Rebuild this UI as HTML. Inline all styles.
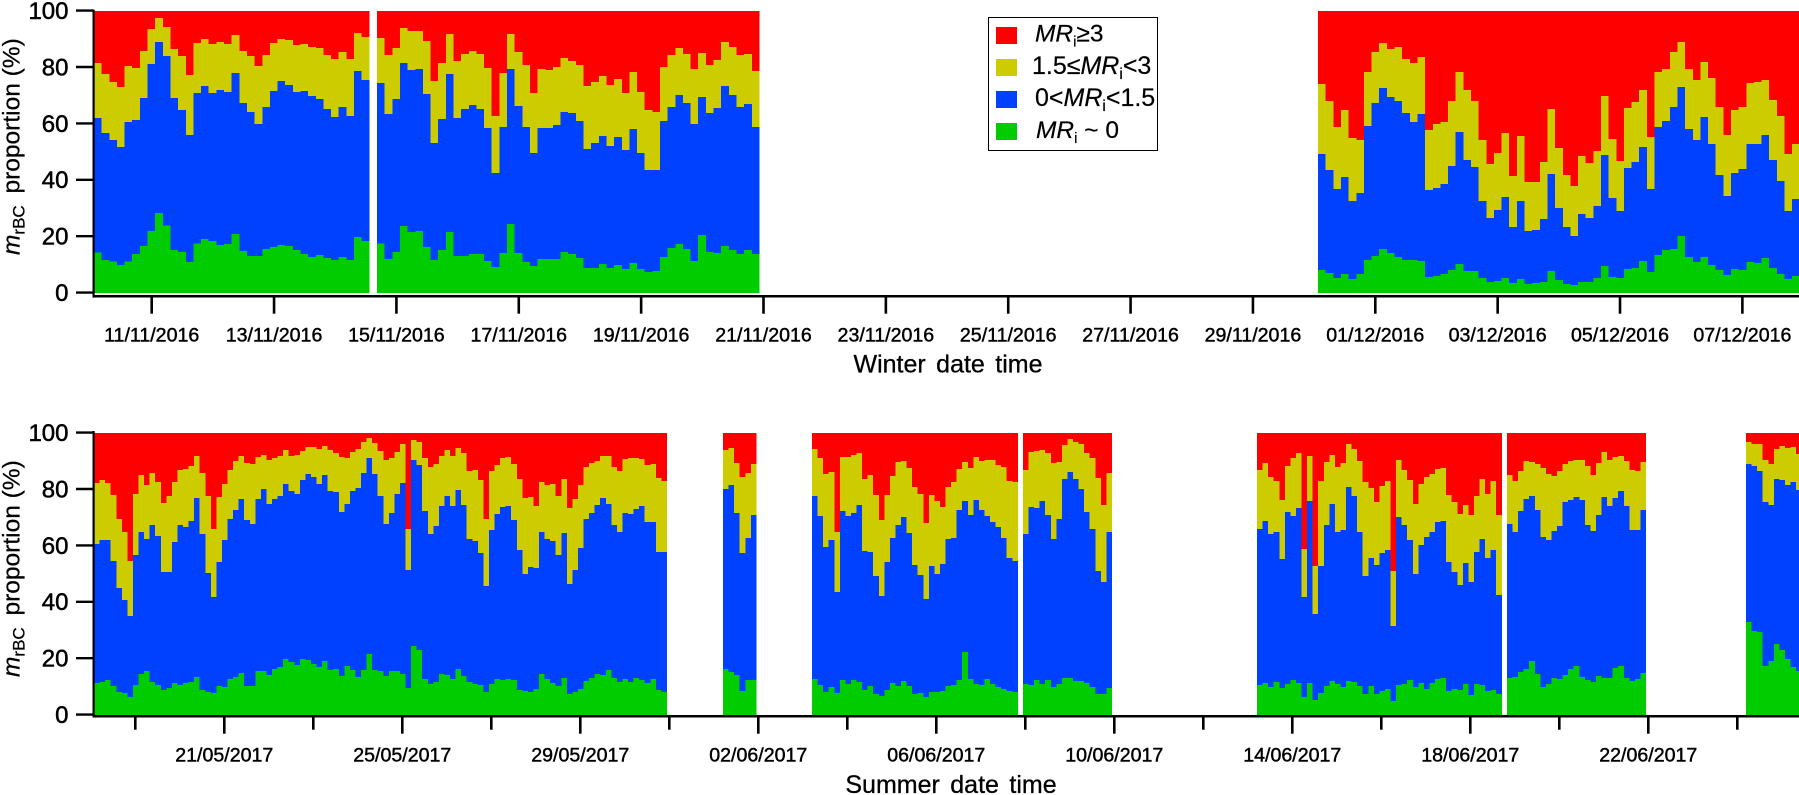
<!DOCTYPE html>
<html lang="en">
<head>
<meta charset="utf-8">
<title>mrBC proportion by MRi class</title>
<style>
html,body{margin:0;padding:0;background:#fff;width:1799px;height:795px;overflow:hidden}
svg{display:block;font-family:"Liberation Sans",Arial,sans-serif;fill:#000}
</style>
</head>
<body>
<svg id="chart" width="1799" height="795" viewBox="0 0 1799 795" xmlns="http://www.w3.org/2000/svg">
  <g id="winter-panel"></g>
  <g id="summer-panel"></g>

  <text transform="translate(19.5,255) rotate(-90)" font-size="24.5" stroke="#000" stroke-width="0.25"><tspan font-style="italic">m</tspan><tspan font-size="17" dy="5">rBC</tspan><tspan dy="-5" dx="5"> proportion (%)</tspan></text>
  <text transform="translate(19.5,677) rotate(-90)" font-size="24.5" stroke="#000" stroke-width="0.25"><tspan font-style="italic">m</tspan><tspan font-size="17" dy="5">rBC</tspan><tspan dy="-5" dx="5"> proportion (%)</tspan></text>
  <text x="948" y="372.7" font-size="25" text-anchor="middle" word-spacing="3.5" stroke="#000" stroke-width="0.3">Winter date time</text>
  <text x="951" y="793" font-size="25" text-anchor="middle" word-spacing="3.5" stroke="#000" stroke-width="0.3">Summer date time</text>

  <g>
    <rect x="988.5" y="17.5" width="169" height="133" fill="#fff" stroke="#000" stroke-width="1"/>
    <rect x="996" y="27" width="21" height="17" fill="#ff0000"/>
    <rect x="996" y="59" width="21" height="17" fill="#cccc00"/>
    <rect x="996" y="91" width="21" height="17" fill="#0040ff"/>
    <rect x="996" y="123" width="21" height="17" fill="#00cc00"/>
    <text x="1035" y="41.7" font-size="24.5" stroke="#000" stroke-width="0.2"><tspan font-style="italic">MR</tspan><tspan font-size="15" dy="5">i</tspan><tspan dy="-5">≥3</tspan></text>
    <text x="1032" y="74" font-size="25" stroke="#000" stroke-width="0.2">1.5≤<tspan font-style="italic">MR</tspan><tspan font-size="15.5" dy="5">i</tspan><tspan dy="-5">&lt;3</tspan></text>
    <text x="1035" y="106" font-size="25" stroke="#000" stroke-width="0.2">0&lt;<tspan font-style="italic">MR</tspan><tspan font-size="15.5" dy="5">i</tspan><tspan dy="-5">&lt;1.5</tspan></text>
    <text x="1036" y="138" font-size="24.5" stroke="#000" stroke-width="0.2"><tspan font-style="italic">MR</tspan><tspan font-size="15" dy="5">i</tspan><tspan dy="-5"> ~ 0</tspan></text>
  </g>
</svg>
<script>
// Value axis ticks (percent) shared by both panels
const yTickValues = [0, 20, 40, 60, 80, 100];

// Tick labels, one tick every two days ("" = unlabelled minor tick)
const winterTickLabels = ["11/11/2016","13/11/2016","15/11/2016","17/11/2016","19/11/2016","21/11/2016","23/11/2016","25/11/2016","27/11/2016","29/11/2016","01/12/2016","03/12/2016","05/12/2016","07/12/2016"];
const summerTickLabels = ["","21/05/2017","","25/05/2017","","29/05/2017","","02/06/2017","","06/06/2017","","10/06/2017","","14/06/2017","","18/06/2017","","22/06/2017",""];

// Sampling run start (days after the first tick); each bin lasts one eighth of a day
const binDays = 0.125;
const winterRunStarts = [-0.943, 3.683, 19.064];
const summerRunStarts = [-0.928, 13.207, 15.207, 19.948, 25.207, 30.824, 36.196];

// Cumulative stack tops (%): Green = MRi~0, Blue = +0<MRi<1.5, Yellow = +1.5<=MRi<3; red fills to 100
const winter1Green = [14.4,11.7,11.2,9.9,11.2,13.8,16.7,22,28.4,24,15.2,14.5,11,17.6,19.1,18.4,17,17.4,20.9,14.9,13.1,13.1,15.6,16.3,17,16.7,15.2,13.8,12.8,13.5,12.4,11.7,12.8,11.7,19.9,18.4];
const winter1Blue = [62,56.7,54.3,51.8,60.6,61.3,69.1,81.2,89,84,69.1,64.9,56,70.9,73.4,70.9,72,71.3,78,67.4,64.2,59.9,66,71.6,75.2,73.8,71.3,71.6,69.9,68.8,65.2,62.4,66,62.8,78.7,75.5];
const winter1Yellow = [81.6,77.7,74.8,73,80.5,79.8,85.8,93.6,97.5,94.3,86.5,84,77.3,88.7,90,88.3,89,88.3,91.5,85.8,84,80.5,84.4,88.7,90,89.7,88,88.3,87.2,86.9,84.4,83,85.5,83,92.2,90.8];

const winter2Green = [17.6,12.1,14.5,23.8,21.6,22,16.3,11.7,15.2,21.6,13.1,13.1,13.8,13.8,11.3,9.2,14.2,24.5,14.2,11,9.6,12.1,12.1,12.1,14.5,13.8,12.4,8.9,8.9,10.3,8.9,9.9,8.5,10.6,8.5,7.4,7.8,12.8,16,17.4,15.6,11.3,20.6,14.5,14.2,16.7,15.2,13.8,15.2,13.8];
const winter2Blue = [74.5,63.5,68.8,81.6,79.1,79.4,70.6,53.2,61.7,77.7,62,65.2,66.7,65.2,58.5,42.6,58.9,79.4,66.3,58.9,49.6,58.5,58.5,59.6,64.2,63.8,61,51.1,53.2,55.7,52.1,55.3,50.7,58.2,49.6,43.6,43.6,61,66,70.2,67.4,59.9,69.5,63.8,65.6,73.4,70.2,66,67,58.9];
const winter2Yellow = [90.4,84.4,86.9,94,92.9,92.9,89.4,75.2,81.6,91.8,82.3,84.8,85.8,84.8,79.8,62.8,78,91.8,85.5,80.9,70.9,79.4,79.1,80.1,83.3,82.3,80.9,73.4,74.8,77,73.8,75.9,70.9,78.4,71.3,64.9,64.2,80.1,84.4,86.9,84.8,79.4,85.1,80.9,82.6,89,87.2,84.4,84.8,78.7];

const winter3Green = [8.2,7.1,5.3,6.7,5,6.7,11.7,13.1,15.6,14.2,12.8,11.7,11.7,11.3,5.7,6,6.7,8.2,10.3,7.8,7.8,5.3,3.9,4.3,5.3,3.5,5,3.2,3.5,3.9,7.8,4.6,3.2,2.8,3.9,3.9,5.3,9.6,5.7,5.3,8.5,8.9,11.3,7.4,13.5,15.2,15.6,20.2,12.8,11,12.8,9.9,8.2,6.4,8.5,8.2,11,10.6,12.4,8.9,6.7,5,6];
const winter3Blue = [49.3,43.6,36.9,41.1,32.6,35.5,59.2,67.4,72.7,69.5,68.1,63.8,60.6,63.5,36.5,37.2,38.7,45,57.1,47.2,44.7,32.6,26.6,29.4,34,23.4,32.6,22,22.3,26.2,42.2,30.1,23.4,20.2,28,26.6,30.9,48.9,33.7,29.1,44.3,46.5,51.8,36.9,58.9,61,66,73,58.2,54.3,62.4,52.8,41.8,34.4,42.6,44,52.8,52.8,56,47.2,39.7,29.1,33.3];
const winter3Yellow = [74.1,68.1,58.9,64.9,55,54.3,78.4,85.5,88.7,86.5,87.2,83,81.6,83.7,57.8,59.9,60.6,68.1,78.4,72,68.1,54.3,45.7,49.6,56.7,41.5,55.7,39.4,39.4,46.5,65.2,51.4,41.8,37.9,48.6,46.1,50.4,69.9,54.6,46.8,65.6,67.7,72,55.3,78.4,79.4,85.5,89,79.4,75.5,82,76.2,66,56,64.9,66,74.5,74.8,75.5,68.4,62.8,49.3,52.8];

const summer1Green = [11.3,11.7,12.4,10.3,8.2,7.8,6.4,10.6,14.5,15.6,11.7,10.6,8.9,9.6,11.3,10.6,11.3,11.7,13.5,8.9,8.2,7.8,10.3,9.9,12.8,13.5,14.9,10.3,10.3,15.6,15.6,14.2,16.3,17,19.9,18.8,17.7,19.9,19.5,18.1,17,19.1,16,16.3,13.8,17.4,16,13.5,16,21.6,16,15.6,13.8,15.6,15.6,14.5,9.6,24.5,23,12.8,11,11.7,14.5,14.2,12.8,16.3,13.8,11.7,11,10.6,8.2,11,12.8,12.4,12.8,12.4,8.9,8.5,8.2,9.2,14.5,12.8,11.3,10.3,13.1,7.4,8.2,9.2,12.1,13.1,14.5,14.2,16,13.1,11.7,12.8,11.7,13.1,12.4,11.3,12.8,8.9,8.2];
const summer1Blue = [60.6,62,62,54.6,45,40.8,35.1,56.7,64.9,62.4,67.4,63.5,50.7,50.7,61.3,67.4,66.7,68.8,76.9,64.2,50.4,41.8,54.3,62,69.5,72.7,76.6,69.1,67.7,76.6,80.1,74.8,76.6,77.7,81.9,79.4,78.4,83.3,85.5,84.4,81.9,85.1,79.4,79.1,72,74.8,79.4,80.5,85.8,91.1,85.5,77.7,67.7,71.6,78.4,82.3,51.4,90.4,88.7,72.3,64.2,67,74.1,77.7,74.1,79.8,74.5,62.4,61.7,57.4,45.7,65.6,71.3,73.8,74.1,69.1,58.5,50,52.5,52.1,64.9,62.4,61.7,56.7,64.5,46.5,51.4,59.2,69.5,71.6,74.5,76.9,74.8,67.4,64.9,71.6,71.3,73,74.1,68.4,68.4,57.8,57.8];
const summer1Yellow = [82.3,83.3,82.3,78,69.5,64.9,54.6,78.4,85.1,81.6,85.8,82.6,75.2,77.7,82.6,86.9,87.2,88.3,91.8,85.8,77.7,66,77.3,81.9,86.9,90.1,91.8,89.4,89,91.5,92.2,90.4,91.1,91.8,94,91.8,92.2,93.6,95,95,94.3,95.4,94,92.9,91.5,91.1,93.3,94.3,96.8,98.2,96.5,93.6,90.4,91.1,93.3,96.1,66,97.5,96.8,91.1,87.9,89,91.8,94,91.8,94.7,92.9,86.5,86.9,83.3,69.5,86.5,88.7,91.1,91.5,89,83.7,76.9,77.3,74.1,82.6,81.6,81.9,77.7,83.7,73.4,76.6,81.6,87.9,89.4,90.1,91.8,91.8,87.9,86.5,90.8,91.1,91.1,90.8,88.7,89,84,83];

const summer2Green = [16.3,15.2,14.2,8.5,12.4,12.4];
const summer2Blue = [80.1,81.6,71.6,57.4,62.8,70.9];
const summer2Yellow = [94,94.7,89.4,84.4,85.8,89];

const summer3Green = [12.8,10.6,8.2,9.9,7.8,12.4,11,12.4,11.7,8.9,10.3,7.4,6.7,8.9,11.3,10.3,12.1,10.3,7.4,7.8,6.4,8.2,8.2,8.5,10.3,10.6,12.4,22.3,12.8,11,10.6,12.8,11,9.9,9.2,8.5,8.2];
const summer3Blue = [77.7,70.6,59.6,62,43.6,72.3,70.6,71.6,74.5,58.2,57.8,49.3,42.2,54.3,62.8,67.4,70.2,64.5,53.2,49.6,41.1,52.8,50,53.5,62.4,62.8,72.7,75.9,70.9,76.2,72.7,70.6,68.4,66.7,62.8,55.7,54.6];
const summer3Yellow = [94.3,91.1,85.5,86.2,64.9,91.5,91.5,92.2,92.9,83.7,85.1,78,69.1,78,84.8,89.7,90.1,87.6,80.9,78.4,68.1,78,75.9,73.8,80.9,82.6,87.2,89.7,87.6,91.5,90.1,90.4,90.4,88.7,87.9,83,82.6];

const summer4Green = [11,10.6,12.4,11,12.4,9.9,11,13.1,13.1,12.1,12.1,11.3,9.9,7.4,7.4,9.6];
const summer4Blue = [64.2,73.8,73.4,75.9,70.9,62.4,69.5,83.7,86.2,83.7,80.1,72,66,51.1,47.2,64.9];
const summer4Yellow = [86.9,93.3,93.6,94,92.9,89.4,89.7,95.7,97.9,96.8,96.1,92.9,91.1,84,74.5,85.8];

const summer5Green = [10.6,11.3,9.9,11.7,9.6,11,12.4,11.3,6.4,11.3,5.3,7.8,10.3,12.1,11,9.9,12.1,11.7,10.3,7.4,10.3,7.4,8.5,9.2,5,10.6,11,12.4,9.9,11.3,9.2,11.3,12.8,13.1,8.5,9.2,8.9,11,7.1,11,10.6,8.5,8.9,7.4];
const summer5Blue = [66,68.8,64.2,64.9,55.3,72,70.6,73.4,41.8,75.9,35.8,52.8,67.4,74.8,64.9,65.6,80.9,77.7,64.9,49.3,55.7,53.2,57.4,58.5,31.6,70.2,67.4,62,50,60.3,63.1,64.9,68.4,68.8,54.3,50.7,46.1,53.9,47.2,57.8,62.4,55.7,58.5,42.6];
const summer5Yellow = [86.9,89.4,84.4,83,76.2,88.3,91.1,92.9,58.9,91.8,52.8,83,89.7,92.2,87.9,89.4,96.1,94.3,90.1,82.6,80.5,75.5,81.2,83,51.1,90.4,86.9,83.3,74.8,81.9,84.4,85.5,87.2,87.6,78,75.5,71.3,74.5,70.9,77.7,83.7,78.4,83,70.9];

const summer6Green = [13.1,13.5,15.2,16.3,19.1,14.5,9.9,11,13.1,12.8,14.2,16.3,17.4,13.5,12.4,11.7,13.8,13.1,13.1,16.7,17.4,13.1,12.1,12.8,14.9];
const summer6Blue = [67.7,64.9,72.3,76.6,77.7,72.7,63.1,62,65.2,67,75.5,76.2,77.3,76.2,67.4,65.2,70.9,77.3,74.1,76.9,79.4,74.1,65.6,65.6,72.7];
const summer6Yellow = [85.1,83,86.5,90.1,89.7,89,87.6,85.5,84.8,86.5,89,90.1,90.4,90.4,88.3,85.1,89.4,93.3,90.4,91.5,91.8,90.1,86.9,86.5,89.7];

const summer7Green = [33,29.8,29.4,17.4,19.1,25.2,23,19.9,17,15.6];
const summer7Blue = [89,88.3,86.5,75.5,74.5,83.7,83.3,81.6,82.6,79.8];
const summer7Yellow = [96.8,96.1,96.1,90.4,89,94.3,95.4,94.7,95,92.6];

const winterRuns = [
  [winter1Green, winter1Blue, winter1Yellow],
  [winter2Green, winter2Blue, winter2Yellow],
  [winter3Green, winter3Blue, winter3Yellow]
];
const summerRuns = [
  [summer1Green, summer1Blue, summer1Yellow],
  [summer2Green, summer2Blue, summer2Yellow],
  [summer3Green, summer3Blue, summer3Yellow],
  [summer4Green, summer4Blue, summer4Yellow],
  [summer5Green, summer5Blue, summer5Yellow],
  [summer6Green, summer6Blue, summer6Yellow],
  [summer7Green, summer7Blue, summer7Yellow]
];

const SVG_NS = "http://www.w3.org/2000/svg";
const classNames = ["zero", "low", "mid", "high"];
const classColors = ["#00cc00", "#0040ff", "#cccc00", "#ff0000"];

function make(tag, parent, attrs) {
  const el = document.createElementNS(SVG_NS, tag);
  for (const k in attrs) el.setAttribute(k, attrs[k]);
  parent.appendChild(el);
  return el;
}

function drawPanel(panelId, prefix, runs, runStarts, tickLabels, geo) {
  const panel = document.getElementById(panelId);
  const xScale = d => geo.xOrigin + d * geo.pxPerDay;
  const yScale = v => geo.yZero - v * geo.pxPerUnit;

  // stacked bars
  runs.forEach((run, r) => {
    const group = make("g", panel, { "shape-rendering": "crispEdges" });
    
    
    const [greens, blues, yellows] = run;
    greens.forEach((g, i) => {
      const left = xScale(runStarts[r] + i * binDays);
      const right = xScale(runStarts[r] + (i + 1) * binDays);
      const tops = [g, blues[i], yellows[i], 100];
      let base = 0;
      tops.forEach((top, c) => {
        const bar = make("rect", group, {
          x: left.toFixed(2),
          y: yScale(top).toFixed(2),
          width: (right - left).toFixed(2),
          height: (yScale(base) - yScale(top)).toFixed(2),
          fill: classColors[c]
        });
        
        
        base = top;
      });
    });
  });

  // axis lines
  const yAxis = make("line", panel, { x1: 93.6, x2: 93.6, y1: geo.yAxisTop, y2: geo.xAxisY + 1.3, stroke: "#000", "stroke-width": 2.2 });
  
  
  const xAxis = make("line", panel, { x1: 92.5, x2: 1799, y1: geo.xAxisY, y2: geo.xAxisY, stroke: "#000", "stroke-width": 2.5 });
  
  

  // y ticks and labels
  yTickValues.forEach(v => {
    const y = yScale(v) - 0.4;
    const tick = make("line", panel, { x1: 76, x2: 93.6, y1: y, y2: y, stroke: "#000", "stroke-width": 2.4 });
    
    
    const label = make("text", panel, { x: 68.5, y: y + 8.4, "font-size": 24, "text-anchor": "end", stroke: "#000", "stroke-width": 0.5 });
    label.textContent = String(v);
    
    
  });

  // x ticks and labels
  tickLabels.forEach((text, i) => {
    const x = xScale(i * 2);
    const tick = make("line", panel, { x1: x, x2: x, y1: geo.xAxisY, y2: text ? geo.majorTickEnd : geo.minorTickEnd, stroke: "#000", "stroke-width": 2.6 });
    
    
    if (text) {
      const label = make("text", panel, { x: x, y: geo.labelBaseline, "font-size": 19.6, "text-anchor": "middle", stroke: "#000", "stroke-width": 0.45 });
      label.textContent = text;
      
      
    }
  });
}

drawPanel("winter-panel", "winter", winterRuns, winterRunStarts, winterTickLabels, {
  xOrigin: 151.7, pxPerDay: 61.18, yZero: 293, pxPerUnit: 2.82,
  yAxisTop: 9.8, xAxisY: 296.3, majorTickEnd: 313.7, minorTickEnd: 309.7, labelBaseline: 341.3
});
drawPanel("summer-panel", "summer", summerRuns, summerRunStarts, summerTickLabels, {
  xOrigin: 135.3, pxPerDay: 44.5, yZero: 715, pxPerUnit: 2.82,
  yAxisTop: 431, xAxisY: 716.2, majorTickEnd: 733.7, minorTickEnd: 729.7, labelBaseline: 761.3
});
</script>
</body>
</html>
